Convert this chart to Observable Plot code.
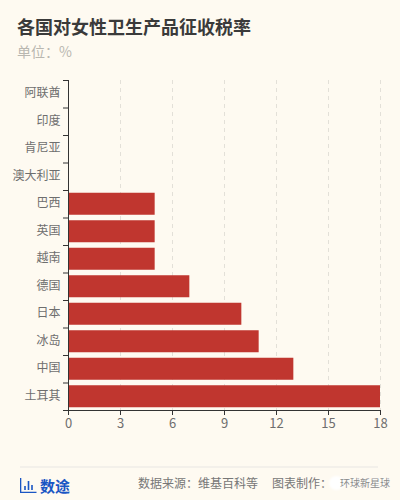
<!DOCTYPE html>
<html><head><meta charset="utf-8">
<script src="https://cdn.jsdelivr.net/npm/d3@7"></script>
<script src="https://cdn.jsdelivr.net/npm/@observablehq/plot@0.6"></script>
<style>
html,body{margin:0;padding:0;background:#fefaf1;width:400px;height:500px;overflow:hidden;font-family:"Noto Sans CJK SC","Noto Sans",sans-serif}
#wrap{position:relative;width:400px;height:500px}
#title{position:absolute;left:17px;top:13px;font-size:18px;font-weight:700;color:#3a3a3a;line-height:26px;white-space:nowrap}
#sub{position:absolute;left:17px;top:41px;font-size:14px;color:#b9b7b0;line-height:20px;white-space:pre}
#chart{position:absolute;left:0;top:70px}
#rule{position:absolute;left:20px;right:22px;top:466px;height:1.5px;background:#f3f0ea}
#brand{position:absolute;left:40px;top:475px;font-size:15px;font-weight:700;color:#1a56c4;line-height:22px}
#source{position:absolute;left:138px;top:474px;font-size:12px;color:#777;line-height:18px;white-space:pre}
#credit{position:absolute;left:272px;top:474px;font-size:12px;color:#777;line-height:18px;white-space:pre}
#mark{position:absolute;left:340px;top:474px;font-size:10px;color:#8a8a8a;line-height:18px;white-space:pre;text-shadow:0 0 2px #fff,0 0 2px #fff}
#blob{position:absolute;left:329px;top:476px;width:15px;height:14px;border-radius:50%;background:#fff;filter:blur(1px)}
</style></head><body>
<div id="wrap">
<div id="title"></div><div id="sub"></div><div id="chart"></div><div id="rule"></div>
<svg id="logo" style="position:absolute;left:20px;top:478px" width="17" height="15" viewBox="0 0 17 15"><path d="M0.5 0V14.5H16.5M5 12V8M8.5 12V3M12 12V7" stroke="#1a56c4" stroke-width="1.6" fill="none"/></svg>
<div id="brand"></div><div id="source"></div><div id="credit"></div><div id="blob"></div><div id="mark"></div>
</div>
<script>
const titleText = "各国对女性卫生产品征收税率";
const subtitleText = "单位：%";
const brandText = "数途";
const sourceText = "数据来源：维基百科等";
const creditText = "图表制作：";
const markText = "环球新星球";
const countries = ["阿联酋","印度","肯尼亚","澳大利亚","巴西","英国","越南","德国","日本","冰岛","中国","土耳其"];
const rates = [0,0,0,0,5,5,5,7,10,11,13,18];
const xTicks = [0,3,6,9,12,15,18];
const gridTicks = [3,6,9,12,15,18];
document.getElementById("title").textContent = titleText;
document.getElementById("sub").textContent = subtitleText;
document.getElementById("brand").textContent = brandText;
document.getElementById("source").textContent = sourceText;
document.getElementById("credit").textContent = creditText;
document.getElementById("mark").textContent = markText;
const data = countries.map((c,i)=>({country:c,rate:rates[i]}));
const axisColor = "#333", labelColor = "#6e6e6e";
const band = 330/countries.length;
const plot = Plot.plot({
  width:400, height:370,
  marginTop:10, marginBottom:30, marginLeft:68, marginRight:20,
  style:{background:"transparent",fontFamily:'"Noto Sans CJK SC","Noto Sans",sans-serif',fontSize:"12px",overflow:"visible"},
  x:{domain:[0,18],label:null},
  y:{domain:countries,label:null,paddingInner:0.2,paddingOuter:0.1,align:0.5,round:false},
  marks:[
    Plot.ruleX(gridTicks,{stroke:"#e3e0d8",strokeDasharray:"4,4",strokeWidth:1}),
    Plot.barX(data,{x:"rate",y:"country",fill:"#c0362f"}),
    Plot.axisY({tickSize:0,tickPadding:8,dy:-1,fill:labelColor,label:null,fontSize:12}),
    Plot.axisY({tickSize:5,tickFormat:null,stroke:axisColor,dy:-band/2,label:null}),
    Plot.axisY({ticks:[countries[countries.length-1]],tickSize:5,tickFormat:null,stroke:axisColor,dy:band/2,label:null}),
    Plot.ruleX([0],{stroke:axisColor,strokeWidth:1}),
    Plot.axisX({ticks:xTicks,tickSize:5,tickPadding:3,stroke:axisColor,fill:labelColor,label:null,fontSize:13}),
    Plot.ruleY([countries[countries.length-1]],{stroke:axisColor,strokeWidth:1,dy:band/2})
  ]
});
document.getElementById("chart").appendChild(plot);
</script>
</body></html>
